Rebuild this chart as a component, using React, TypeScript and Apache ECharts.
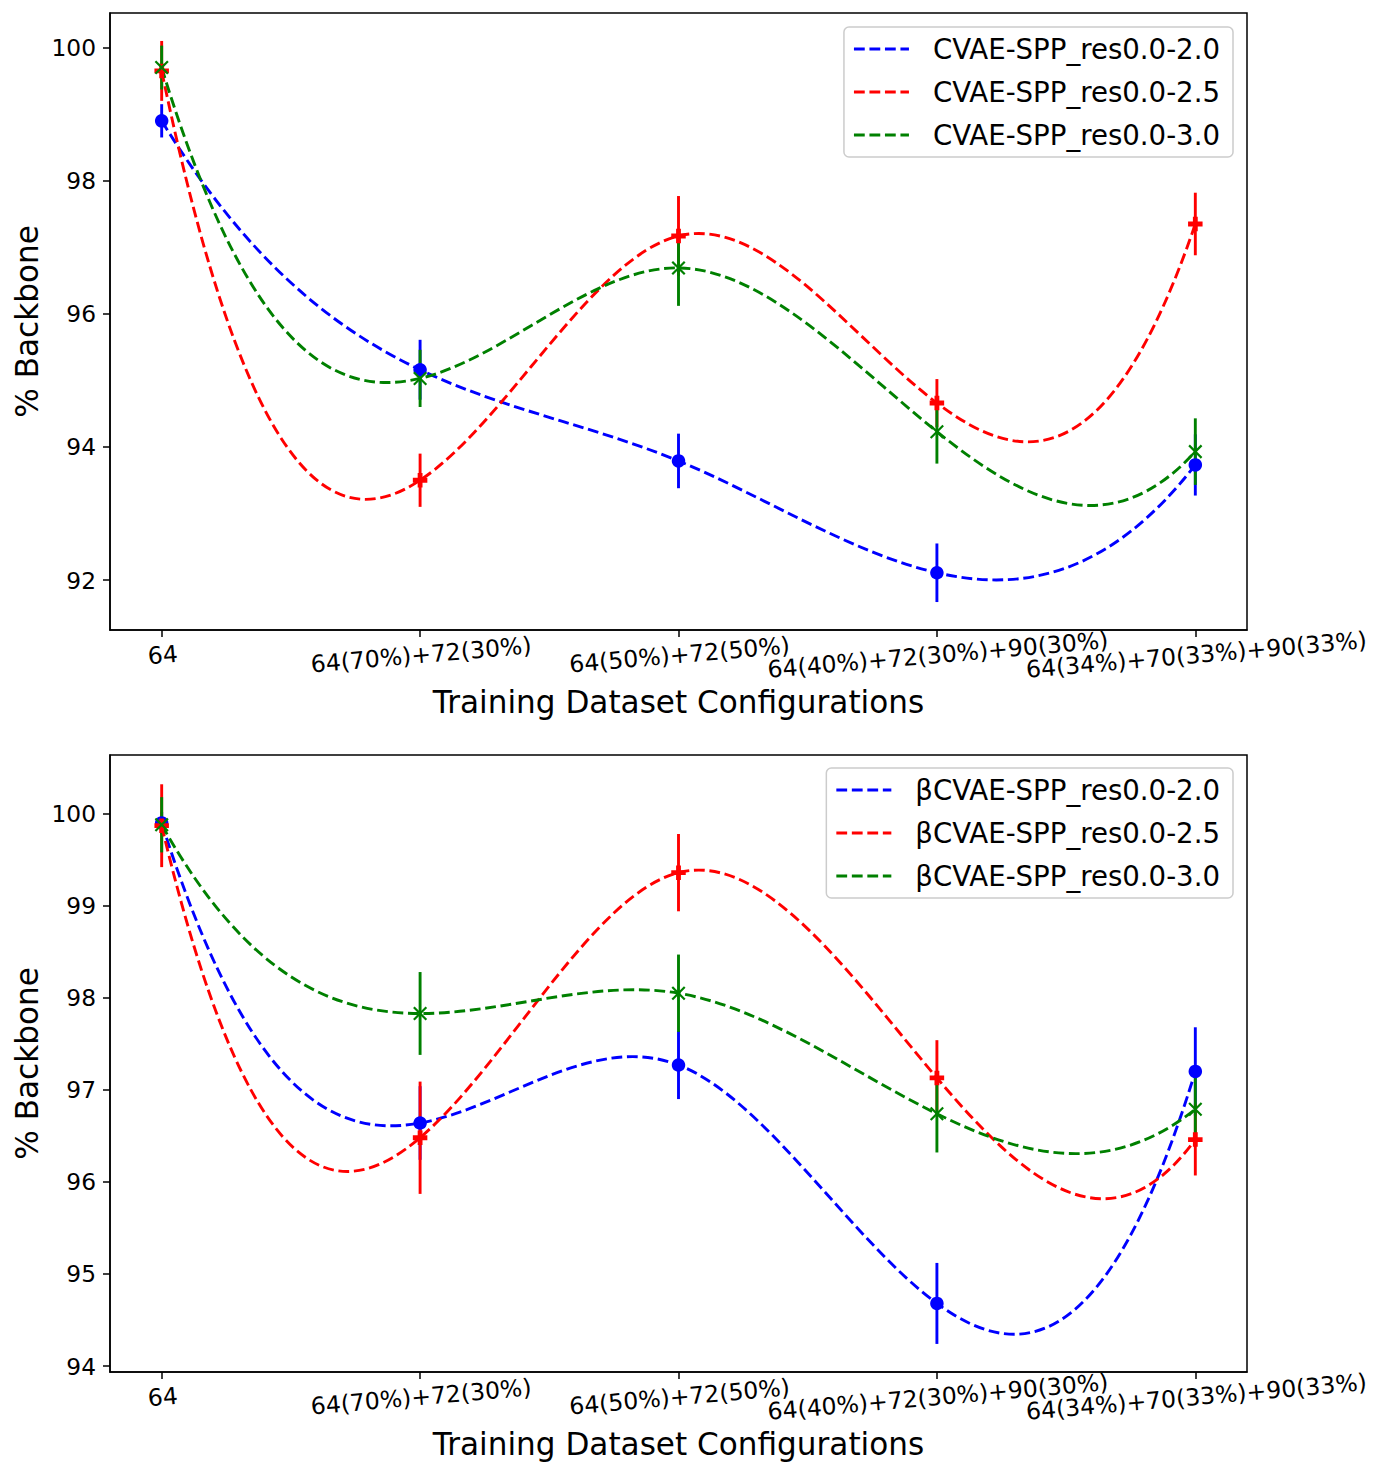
import React, { useEffect, useRef } from 'react';
import * as echarts from 'echarts';

// ---------- data ----------
const categories = [
  '64',
  '64(70%)+72(30%)',
  '64(50%)+72(50%)',
  '64(40%)+72(30%)+90(30%)',
  '64(34%)+70(33%)+90(33%)',
];
const xTicks = [0, 1, 2, 3, 4];
// labels split over two overlaid axes so that ECharts' min/max-label overlap pruning never hides one
const xLabelsEven = [0, 2, 4];
const xLabelsOdd = [1, 3];

const topNames = ['CVAE-SPP_res0.0-2.0', 'CVAE-SPP_res0.0-2.5', 'CVAE-SPP_res0.0-3.0'];
const topBlue = [98.9, 95.16, 93.79, 92.11, 93.73];
const topBlueErr = [0.25, 0.45, 0.41, 0.44, 0.46];
const topRed = [99.65, 93.5, 97.17, 94.66, 97.35];
const topRedErr = [0.45, 0.4, 0.6, 0.36, 0.47];
const topGreen = [99.7, 95.03, 96.69, 94.23, 93.93];
const topGreenErr = [0.33, 0.43, 0.57, 0.48, 0.5];
const topYTicks = [92, 94, 96, 98, 100];

const bottomNames = ['βCVAE-SPP_res0.0-2.0', 'βCVAE-SPP_res0.0-2.5', 'βCVAE-SPP_res0.0-3.0'];
const bottomBlue = [99.9, 96.64, 97.27, 94.68, 97.2];
const bottomBlueErr = [0.12, 0.4, 0.37, 0.44, 0.48];
const bottomRed = [99.87, 96.48, 99.36, 97.13, 96.46];
const bottomRedErr = [0.45, 0.61, 0.42, 0.41, 0.39];
const bottomGreen = [99.88, 97.83, 98.05, 96.74, 96.79];
const bottomGreenErr = [0.3, 0.45, 0.42, 0.42, 0.4];
const bottomYTicks = [94, 95, 96, 97, 98, 99, 100];

const colors = ['#0000ff', '#ff0000', '#008000'];
const FONT = 'DejaVu Sans';

// ---------- spline helpers (not-a-knot cubic spline, drawn as exact Bezier segments) ----------
function solve(A: number[][], b: number[]): number[] {
  const n = b.length;
  const a = A.map((r, i) => [...r, b[i]]);
  for (let c = 0; c < n; c++) {
    let p = c;
    for (let r = c + 1; r < n; r++) if (Math.abs(a[r][c]) > Math.abs(a[p][c])) p = r;
    const tmp = a[c]; a[c] = a[p]; a[p] = tmp;
    for (let r = 0; r < n; r++) {
      if (r === c) continue;
      const f = a[r][c] / a[c][c];
      for (let k = c; k <= n; k++) a[r][k] -= f * a[c][k];
    }
  }
  return a.map((r, i) => r[n] / r[i]);
}

function splineSlopes(ys: number[]): number[] {
  const n = ys.length;
  const A: number[][] = [];
  const b: number[] = [];
  for (let i = 0; i < n; i++) {
    const row = new Array(n).fill(0);
    if (i === 0) {
      row[0] = 1; row[1] = -2; row[2] = 1; b.push(0);
    } else if (i === n - 1) {
      row[n - 3] = 1; row[n - 2] = -2; row[n - 1] = 1; b.push(0);
    } else {
      row[i - 1] = 1; row[i] = 4; row[i + 1] = 1;
      b.push(6 * (ys[i - 1] - 2 * ys[i] + ys[i + 1]));
    }
    A.push(row);
  }
  const M = solve(A, b);
  return ys.map((y, i) =>
    i < n - 1
      ? ys[i + 1] - y - (2 * M[i] + M[i + 1]) / 6
      : y - ys[i - 1] + (M[i - 1] + 2 * M[i]) / 6
  );
}

const dashIcon =
  'path://M0,0H10.8V3H0Z M15.5,0H26.3V3H15.5Z M31,0H41.8V3H31Z M46.5,0H55V3H46.5Z';
const plusPath = 'path://M2,0H4V2H6V4H4V6H2V4H0V2H2Z';
const xPath = 'path://M0,0L10,10M10,0L0,10';

const xLabelStyle = {
  formatter: (v: number) => categories[Math.round(v)],
  rotate: 5, align: 'center', verticalAlign: 'top', margin: 13,
  showMinLabel: true, showMaxLabel: true, hideOverlap: false,
  fontSize: 23.6, color: '#000', fontFamily: FONT,
};

function buildPanel(
  g: number,
  names: string[],
  vals: number[][],
  errs: number[][],
  yMin: number,
  yMax: number,
  yTicks: number[],
  gridTop: number,
  legendTop: number
) {
  const xi = g * 2;
  const grid = {
    left: 110, top: gridTop, width: 1137, height: 617,
    show: true, borderColor: '#000', borderWidth: 1.5, backgroundColor: 'transparent',
  };
  const xAxisMain = {
    type: 'value', gridIndex: g, position: 'bottom', min: -0.2, max: 4.2,
    axisLine: { show: true, onZero: false, lineStyle: { color: '#000', width: 1.5 } },
    axisTick: { show: true, length: 7, lineStyle: { color: '#000', width: 1.5 }, customValues: xTicks },
    axisLabel: { ...xLabelStyle, customValues: xLabelsEven },
    splitLine: { show: false },
    name: 'Training Dataset Configurations', nameLocation: 'middle', nameGap: 56,
    nameMoveOverlap: false,
    nameTextStyle: { fontSize: 31.1, color: '#000', fontFamily: FONT },
  };
  const xAxisOdd = {
    type: 'value', gridIndex: g, position: 'bottom', offset: 0, min: -0.2, max: 4.2,
    axisLine: { show: false, onZero: false },
    axisTick: { show: false },
    axisLabel: { ...xLabelStyle, customValues: xLabelsOdd },
    splitLine: { show: false },
  };
  const yAxis = {
    type: 'value', gridIndex: g, min: yMin, max: yMax,
    axisLine: { show: true, onZero: false, lineStyle: { color: '#000', width: 1.5 } },
    axisTick: { show: true, length: 7, lineStyle: { color: '#000', width: 1.5 }, customValues: yTicks },
    axisLabel: {
      customValues: yTicks, margin: 14, fontSize: 23.3, color: '#000', fontFamily: FONT,
      showMinLabel: true, showMaxLabel: true,
      formatter: (v: number) => String(Math.round(v)),
    },
    splitLine: { show: false },
    name: '% Backbone', nameLocation: 'middle', nameGap: 68,
    nameMoveOverlap: false,
    nameTextStyle: { fontSize: 31.1, color: '#000', fontFamily: FONT },
  };
  const legend = {
    orient: 'vertical', right: 141, top: legendTop,
    padding: [7, 13, 7, 10], itemWidth: 55, itemHeight: 3, itemGap: 13,
    borderColor: '#cccccc', borderWidth: 1.5, borderRadius: 5,
    backgroundColor: 'rgba(255,255,255,0.8)', selectedMode: false, align: 'left',
    textStyle: { fontSize: 27.6, color: '#000', fontFamily: FONT, lineHeight: 30, padding: [0, 0, 0, 19] },
    data: names.map((nm, i) => ({ name: nm, icon: dashIcon, itemStyle: { color: colors[i], borderWidth: 0 } })),
  };

  const series: any[] = [];
  // error bars (below)
  vals.forEach((v, si) => {
    series.push({
      type: 'custom', xAxisIndex: xi, yAxisIndex: g, z: 2, silent: true,
      data: v.map((y, i) => [i, y, errs[si][i]]),
      encode: { x: 0, y: 1 },
      renderItem: (_p: any, api: any) => {
        const x = api.value(0), y = api.value(1), e = api.value(2);
        const a = api.coord([x, y + e]);
        const b = api.coord([x, y - e]);
        return {
          type: 'line',
          shape: { x1: a[0], y1: a[1], x2: b[0], y2: b[1] },
          style: { stroke: colors[si], lineWidth: 2.9 },
        };
      },
    });
  });
  const symbols = [
    { symbol: 'circle', symbolSize: 13.5, itemStyle: { color: colors[0], opacity: 1 } },
    { symbol: plusPath, symbolSize: 14.5, itemStyle: { color: colors[1], opacity: 1 } },
    {
      symbol: xPath, symbolSize: 12.5,
      itemStyle: { color: 'rgba(0,0,0,0)', borderColor: colors[2], borderWidth: 2.2, opacity: 1 },
    },
  ];
  vals.forEach((v, si) => {
    series.push({
      type: 'custom', name: names[si], xAxisIndex: xi, yAxisIndex: g, z: 3, silent: true,
      itemStyle: { color: colors[si] },
      data: v.map((y, i) => [i, y]),
      encode: { x: 0, y: 1 },
      renderItem: (params: any, api: any) => {
        if (params.dataIndex !== 0) return null;
        const s = splineSlopes(v);
        const p = (x: number, y: number) => api.coord([x, y]);
        const p0 = p(0, v[0]);
        let d = `M${p0[0]},${p0[1]}`;
        for (let i = 0; i < v.length - 1; i++) {
          const c1 = p(i + 1 / 3, v[i] + s[i] / 3);
          const c2 = p(i + 2 / 3, v[i + 1] - s[i + 1] / 3);
          const e = p(i + 1, v[i + 1]);
          d += ` C${c1[0]},${c1[1]} ${c2[0]},${c2[1]} ${e[0]},${e[1]}`;
        }
        return {
          type: 'path',
          shape: { pathData: d },
          style: { fill: 'none', stroke: colors[si], lineWidth: 2.9, lineDash: [10.8, 4.7] },
        };
      },
    });
    series.push({
      type: 'scatter', xAxisIndex: xi, yAxisIndex: g, z: 3, silent: true,
      data: v.map((y, i) => [i, y]),
      ...symbols[si],
    });
  });
  return { grid, xAxes: [xAxisMain, xAxisOdd], yAxis, legend, series };
}

export default function App() {
  const ref = useRef<HTMLDivElement>(null);
  useEffect(() => {
    if (!ref.current) return;
    const chart = echarts.init(ref.current, null, { renderer: 'svg' });
    const top = buildPanel(
      0, topNames, [topBlue, topRed, topGreen], [topBlueErr, topRedErr, topGreenErr],
      91.25, 100.52, topYTicks, 13, 27
    );
    const bottom = buildPanel(
      1, bottomNames, [bottomBlue, bottomRed, bottomGreen], [bottomBlueErr, bottomRedErr, bottomGreenErr],
      93.935, 100.638, bottomYTicks, 755, 768
    );
    chart.setOption({
      animation: false,
      backgroundColor: '#ffffff',
      textStyle: { fontFamily: FONT },
      grid: [top.grid, bottom.grid],
      xAxis: [...top.xAxes, ...bottom.xAxes],
      yAxis: [top.yAxis, bottom.yAxis],
      legend: [top.legend, bottom.legend],
      series: [...top.series, ...bottom.series],
    } as any);
    return () => chart.dispose();
  }, []);
  return (
    <div
      ref={ref}
      style={{ position: 'absolute', left: 0, top: 0, width: 1374, height: 1463, background: '#fff' }}
    />
  );
}
